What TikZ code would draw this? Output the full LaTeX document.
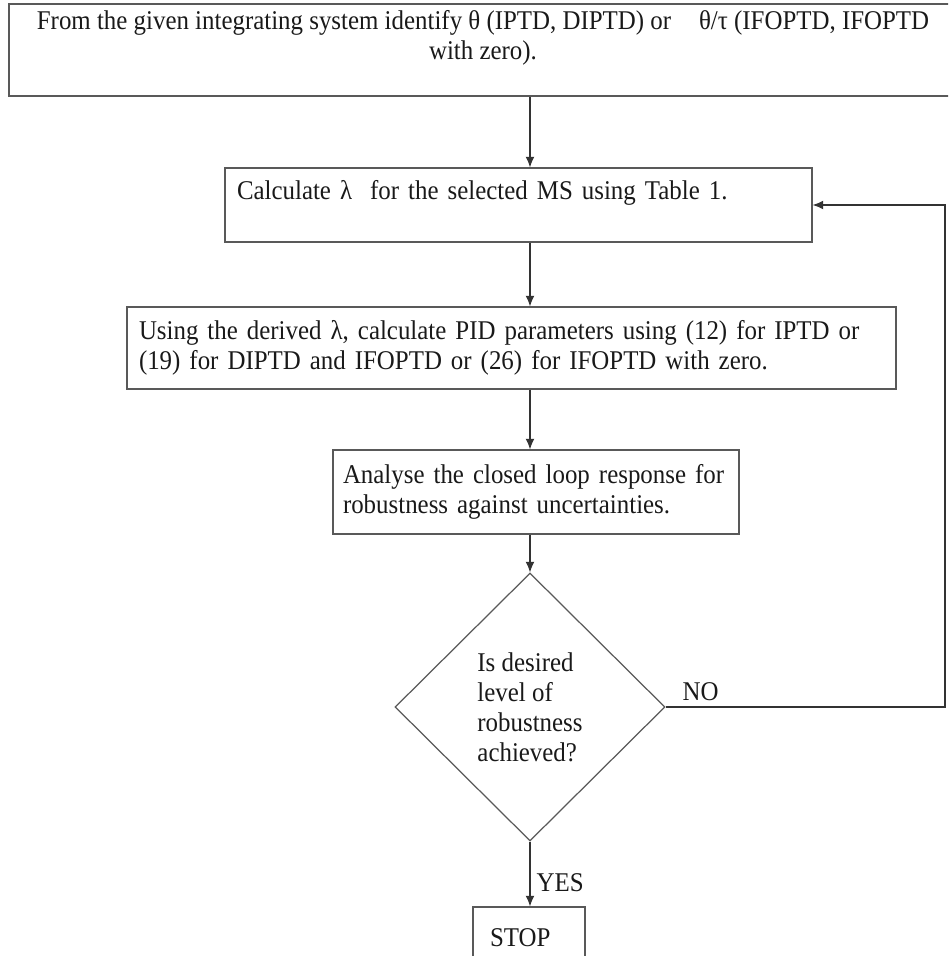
\documentclass[tikz,border=0pt]{standalone}
\usepackage{fontspec}
\setmainfont{Liberation Serif}[FakeStretch=0.92]
\usepackage{tikz}
\usetikzlibrary{arrows.meta,shapes.geometric,calc}

\begin{document}
\begin{tikzpicture}[
  box/.style={draw=black!65, line width=0.7pt, rectangle, inner xsep=0.24cm, inner ysep=0pt,
    align=left, text=black!90, font=\fontsize{15.4}{17.07}\selectfont},
  query/.style={box, diamond, inner sep=0pt, minimum width=5.4cm, minimum height=5.36cm},
  tag/.style={inner sep=3.5pt, text=black!90, font=\fontsize{15.4}{17.07}\selectfont},
  arr/.style={-{Latex[length=6pt,width=5pt]}, draw=black!80, line width=0.6pt}]
\useasboundingbox (0,0) rectangle (18.96,-19.12);
\clip (0,0) rectangle (18.96,-19.12);
% column of the down arrows and the return line
\coordinate (axis) at (10.6,0);
\coordinate (back) at (18.9,0);

\node[box, align=center, minimum width=18.96cm, minimum height=1.84cm] (ident) at (9.66,-1.0)
  {From the given integrating system identify θ (IPTD, DIPTD) or\hspace{0.8em} θ/τ (IFOPTD, IFOPTD\\ with zero).\\ \mbox{}};
\node[box, text width=11.26cm, minimum height=1.48cm] (calc) at (10.37,-4.10)
  {Calculate λ\ \ for the selected MS using Table 1.\\ \mbox{}};
\node[box, text width=14.9cm, minimum height=1.64cm] (pid) at (10.23,-6.96)
  {Using the derived λ, calculate PID parameters using (12) for IPTD or\\ (19) for DIPTD and IFOPTD or (26) for IFOPTD with zero.};
\node[box, inner xsep=0.2cm, text width=7.72cm, minimum height=1.68cm] (ana) at (10.72,-9.84)
  {Analyse the closed loop response for\\ robustness against uncertainties.};
\node[query] (dec) at (10.6,-14.14)
  {Is desired\\ level of\\ robustness\\ achieved?};
\node[box, inner xsep=0.34cm, text width=1.56cm, minimum height=1.24cm] (stop) at (10.58,-18.76) {STOP};

\draw[arr] (ident.south -| axis) -- (calc.north -| axis);
\draw[arr] (calc.south -| axis) -- (pid.north -| axis);
\draw[arr] (pid.south -| axis) -- (ana.north -| axis);
\draw[arr] (ana.south -| axis) -- (dec.north);
\draw[arr] (dec.south) -- node[tag, right, pos=0.64] {YES} (stop.north -| axis);
\draw[arr] (dec.east) -- node[tag, above, pos=0.125] {NO} (dec.east -| back) |- (calc.east);
\end{tikzpicture}
\end{document}
